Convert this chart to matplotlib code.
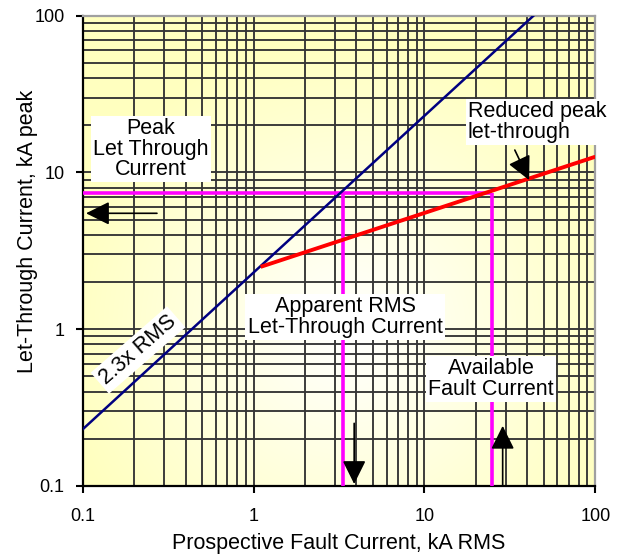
import numpy as np
import matplotlib
matplotlib.use('Agg')
import matplotlib.pyplot as plt
from matplotlib.ticker import LogLocator, NullFormatter

plt.rcParams['font.family'] = ['Liberation Sans', 'DejaVu Sans']

# ---------------- data ----------------
x_limits = [0.1, 100]
y_limits = [0.1, 100]
tick_values = [0.1, 1, 10, 100]
tick_labels = ['0.1', '1', '10', '100']

rms_x = [0.1, 43.5]          # 2.3x RMS line
rms_y = [0.23, 100.0]
reduced_x = [1.1, 100.0]     # reduced peak let-through line
reduced_y = [2.5, 12.6]
peak_let_through = 7.45      # kA peak
apparent_rms = 3.33          # kA RMS
available_fault = 24.7       # kA RMS

W, H, DPI = 622, 555, 100
fig = plt.figure(figsize=(W / DPI, H / DPI), dpi=DPI)
L, R, T, B = 82.7, 595.3, 15.7, 486.0
rect = [L / W, 1 - B / H, (R - L) / W, (B - T) / H]

def ax_x(px):
    return (px - L) / (R - L)

def ax_y(py):
    return (B - py) / (B - T)

# background gradient axes
bg = fig.add_axes(rect, zorder=0)
ny, nx = 200, 200
yy, xx = np.mgrid[0:1:ny * 1j, 0:1:nx * 1j]
d = np.sqrt((xx - 0.52) ** 2 + ((yy - 0.33) * 0.92) ** 2)
t = np.clip(d / 0.58, 0, 1) ** 1.0
edge = np.array([1.0, 1.0, 0.75])
img = (1 - t)[..., None] * np.ones(3) + t[..., None] * edge
bg.imshow(img, extent=[0, 1, 0, 1], origin='lower', aspect='auto', interpolation='bilinear')
bg.set_axis_off()

ax = fig.add_axes(rect, zorder=1)
ax.set_facecolor('none')
ax.set_xscale('log')
ax.set_yscale('log')
ax.set_xlim(*x_limits)
ax.set_ylim(*y_limits)

ax.xaxis.set_minor_locator(LogLocator(base=10, subs=np.arange(2, 10)))
ax.yaxis.set_minor_locator(LogLocator(base=10, subs=np.arange(2, 10)))
ax.xaxis.set_minor_formatter(NullFormatter())
ax.yaxis.set_minor_formatter(NullFormatter())
ax.set_xticks(tick_values)
ax.set_xticklabels(tick_labels)
ax.set_yticks(tick_values)
ax.set_yticklabels(tick_labels)
ax.grid(True, which='both', color='#353535', lw=1.35)
ax.tick_params(which='minor', length=0)
ax.tick_params(axis='x', which='major', length=5, width=1.5, pad=11, labelsize=13, direction='out')
ax.tick_params(axis='y', which='major', length=5, width=1.5, pad=8, labelsize=13, direction='out')
ax.tick_params(top=False, right=False)

for s in ['left', 'bottom']:
    ax.spines[s].set_color('black')
    ax.spines[s].set_linewidth(1.6)
for s in ['top', 'right']:
    ax.spines[s].set_color('#a0a0a0')
    ax.spines[s].set_linewidth(1.6)

# lines
mag = dict(color='#ff00ff', lw=2.6, zorder=3, solid_capstyle='butt')
ax.plot([x_limits[0], available_fault], [peak_let_through, peak_let_through], **mag)
ax.plot([apparent_rms, apparent_rms], [y_limits[0], peak_let_through], **mag)
ax.plot([available_fault, available_fault], [y_limits[0], peak_let_through], **mag)
ax.plot(rms_x, rms_y, color='#000080', lw=1.8, zorder=4)
ax.plot(reduced_x, reduced_y, color='#ff0000', lw=2.8, zorder=4, solid_capstyle='butt')

# arrows
aprops = dict(arrowstyle='-|>,head_length=1.45,head_width=0.72', mutation_scale=10,
              color='black', lw=1.2, shrinkA=0, shrinkB=0)
ax.annotate('', xy=(0.1046, 5.49), xytext=(0.272, 5.49), arrowprops=aprops, zorder=6)
ax.annotate('', xy=(3.88, 0.103), xytext=(3.88, 0.251), arrowprops=aprops, zorder=6)
ax.annotate('', xy=(28.7, 0.242), xytext=(28.7, 0.1), arrowprops=aprops, zorder=6)
ax.annotate('', xy=(41.0, 8.94), xytext=(33.8, 13.9), arrowprops=aprops, zorder=6)

# text boxes
box = dict(facecolor='white', edgecolor='none', pad=1.5)
fs = 15.5
ax.text(0.251, 14.1, 'Peak\nLet Through\nCurrent', ha='center', va='center', fontsize=fs,
        linespacing=0.95, bbox=box, zorder=7)
ax.text(3.43, 1.196, 'Apparent RMS\nLet-Through Current', ha='center', va='center', fontsize=fs,
        linespacing=0.95, bbox=box, zorder=7)
ax.text(24.5, 0.481, 'Available\nFault Current', ha='center', va='center', fontsize=fs,
        linespacing=0.95, bbox=box, zorder=7)
ax.text(17.98, 20.96, 'Reduced peak  \nlet-through', ha='left', va='center', fontsize=fs,
        linespacing=0.95, bbox=box, zorder=7)
ax.text(0.2108, 0.737, '2.3x RMS', ha='center', va='center', fontsize=fs, rotation=41,
        rotation_mode='anchor', bbox=dict(facecolor='white', edgecolor='none', pad=2.5), zorder=7)

# axis labels
ax.text(0.5, ax_y(549.5), 'Prospective Fault Current, kA RMS', transform=ax.transAxes,
        ha='center', va='baseline', fontsize=fs)
ax.text(ax_x(33.3), ax_y(373), 'Let-Through Current, kA peak', transform=ax.transAxes,
        ha='left', va='baseline', rotation=90, rotation_mode='anchor', fontsize=fs)

fig.savefig('out.png', dpi=DPI)
